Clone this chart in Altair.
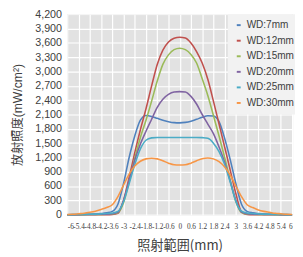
import altair as alt
import pandas as pd

x_mm = [-6.0, -5.7, -5.4, -5.1, -4.8, -4.5, -4.2, -3.9, -3.6, -3.3, -3.0, -2.7, -2.4, -2.1,
        -1.8, -1.5, -1.2, -0.9, -0.6, -0.3, 0.0, 0.3, 0.6, 0.9, 1.2, 1.5, 1.8, 2.1, 2.4, 2.7,
        3.0, 3.3, 3.6, 3.9, 4.2, 4.5, 4.8, 5.1, 5.4, 5.7, 6.0]

wd7 = [0, 2, 5, 8, 10, 15, 25, 40, 70, 220, 650, 1200, 1650, 1980, 2080, 2060, 2020, 1980, 1950, 1930,
       1925, 1935, 1960, 2000, 2040, 2075, 2070, 1950, 1600, 1150, 650, 220, 70, 40, 25, 15, 10, 8, 5, 2, 0]
wd12 = [0, 0, 0, 0, 0, 0, 0, 0, 5, 30, 300, 780, 1300, 1780, 2220, 2700, 3150, 3450, 3620, 3700,
        3720, 3705, 3600, 3420, 3180, 2840, 2380, 1900, 1420, 930, 440, 60, 5, 0, 0, 0, 0, 0, 0, 0, 0]
wd15 = [0, 0, 0, 2, 3, 5, 7, 10, 15, 40, 250, 700, 1180, 1620, 1980, 2380, 2800, 3150, 3350, 3460,
        3490, 3460, 3360, 3180, 2850, 2500, 2080, 1650, 1200, 720, 270, 45, 15, 10, 7, 5, 3, 2, 0, 0, 0]
wd20 = [0, 0, 2, 3, 5, 7, 10, 12, 20, 50, 300, 720, 1140, 1480, 1750, 2000, 2250, 2420, 2520, 2570,
        2580, 2570, 2480, 2320, 2100, 1900, 1700, 1420, 1100, 700, 300, 55, 20, 12, 10, 7, 5, 3, 2, 0, 0]
wd25 = [0, 2, 3, 5, 8, 12, 18, 25, 35, 70, 270, 650, 1050, 1380, 1560, 1610, 1620, 1620, 1620, 1620,
        1620, 1620, 1620, 1620, 1615, 1600, 1500, 1320, 1050, 680, 280, 75, 35, 25, 18, 12, 8, 5, 3, 2, 0]
wd30 = [5, 10, 20, 30, 50, 75, 110, 150, 210, 380, 620, 850, 1020, 1120, 1170, 1185, 1170, 1130, 1080, 1045,
        1040, 1045, 1080, 1130, 1175, 1190, 1170, 1110, 1000, 830, 600, 380, 210, 150, 100, 70, 50, 30, 20, 10, 5]

series_names = ["WD:7mm", "WD:12mm", "WD:15mm", "WD:20mm", "WD:25mm", "WD:30mm"]
series_values = [wd7, wd12, wd15, wd20, wd25, wd30]
colors = ["#4F81BD", "#C0504D", "#9BBB59", "#8064A2", "#4BACC6", "#F79646"]

x_ticks = [-6, -5.4, -4.8, -4.2, -3.6, -3, -2.4, -1.8, -1.2, -0.6, 0, 0.6, 1.2, 1.8, 2.4, 3,
           3.6, 4.2, 4.8, 5.4, 6]
y_ticks = [0, 300, 600, 900, 1200, 1500, 1800, 2100, 2400, 2700, 3000, 3300, 3600, 3900, 4200]

rows = []
for name, vals in zip(series_names, series_values):
    for xv, yv in zip(x_mm, vals):
        rows.append({"x": xv, "v": yv, "wd": name})
df = pd.DataFrame(rows)

chart = alt.Chart(df).mark_line(strokeWidth=1.6, interpolate="monotone").encode(
    x=alt.X("x:Q",
            scale=alt.Scale(domain=[-6, 6], nice=False, zero=False),
            axis=alt.Axis(values=x_ticks, labelExpr="'' + datum.value", title="照射範囲(mm)",
                          labelFont="Liberation Sans Narrow", labelFontSize=7.5,
                          labelOverlap=False, labelPadding=8,
                          titleFont="Noto Sans CJK JP", titleFontSize=13.5, titleFontWeight="normal",
                          titleColor="#404040", titlePadding=9)),
    y=alt.Y("v:Q",
            scale=alt.Scale(domain=[0, 4200], nice=False),
            axis=alt.Axis(values=y_ticks, format=",d", title="放射照度(mW/cm²)",
                          labelFont="Liberation Sans", labelFontSize=11, labelPadding=6,
                          titleFont="Liberation Sans, Noto Sans CJK JP", titleFontSize=12.5,
                          titleFontWeight="normal",
                          titleColor="#404040", titlePadding=11)),
    color=alt.Color("wd:N",
                    scale=alt.Scale(domain=series_names, range=colors),
                    legend=alt.Legend(title=None, orient="none", legendX=165, legendY=0,
                                      fillColor="#f2f2f2", padding=6, rowPadding=5,
                                      symbolType="stroke", symbolSize=16, symbolStrokeWidth=2,
                                      labelFont="Liberation Sans", labelFontSize=10.3,
                                      labelColor="#404040", labelOffset=3))
).properties(
    width=231, height=206,
    autosize=alt.AutoSizeParams(type="none"),
    padding={"left": 61, "top": 3, "right": 3, "bottom": 40}
).configure_view(
    fill="#e2e2e2", stroke="#c8c8c8", strokeWidth=1
).configure_axis(
    domain=False, ticks=False, grid=True, gridColor="#ffffff", gridWidth=1.2,
    labelColor="#404040"
)

chart.save("out.html", embed_options={"renderer": "svg", "actions": False})
